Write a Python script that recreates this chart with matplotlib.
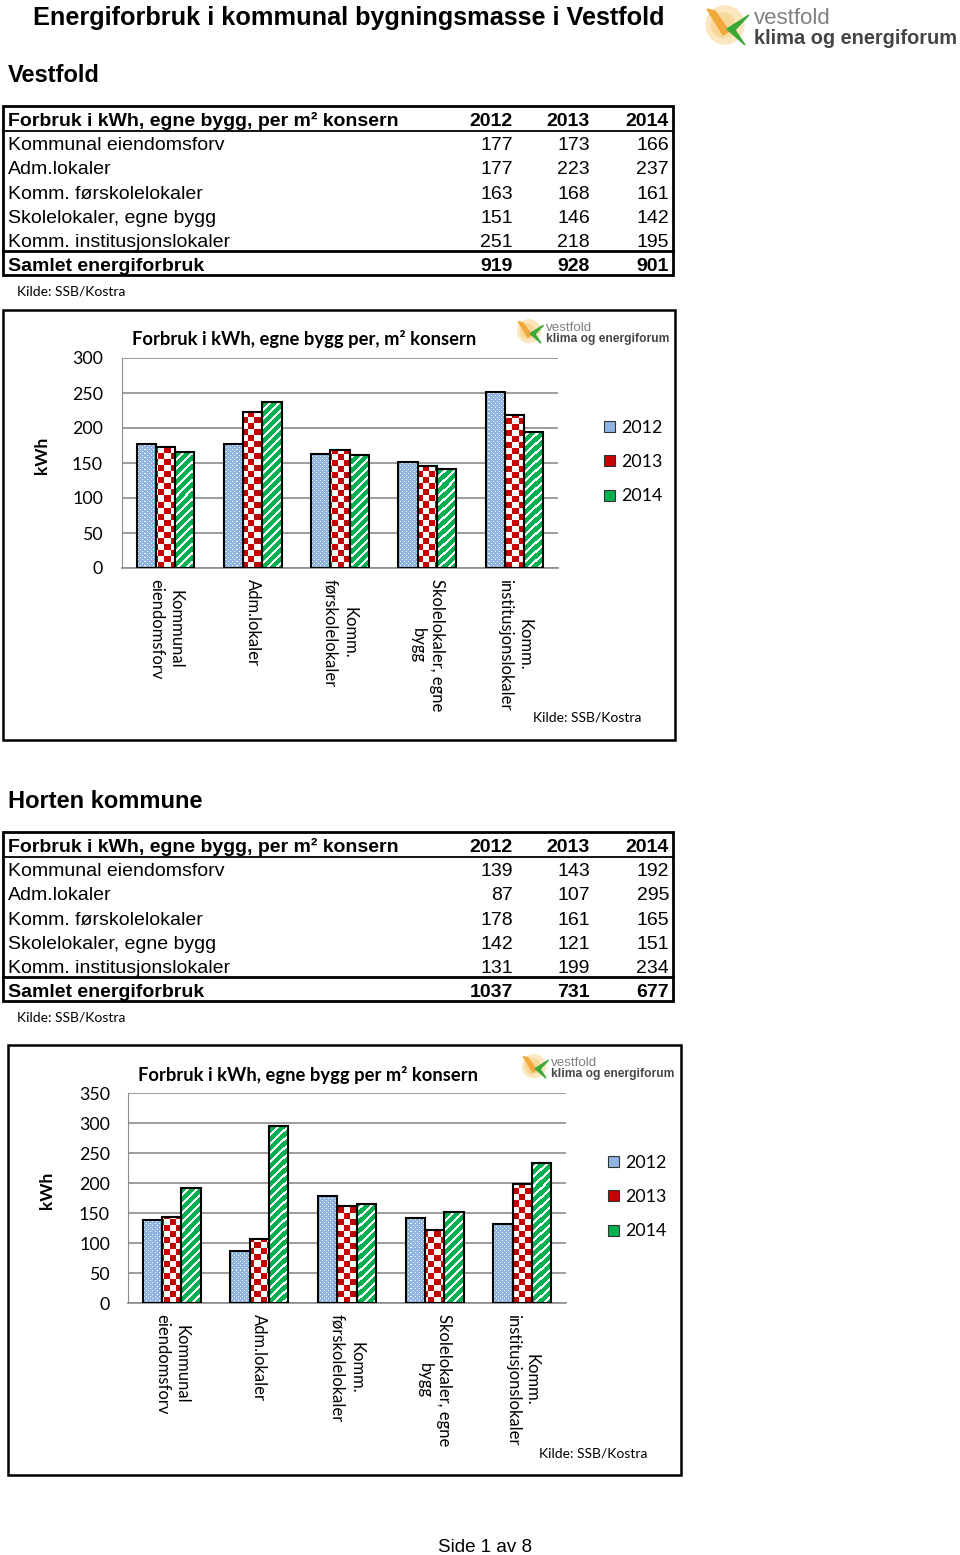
import numpy as np
import matplotlib
matplotlib.use("Agg")
import matplotlib.pyplot as plt
from matplotlib.patches import Rectangle, Circle, Polygon, Patch

# ---------------- data ----------------
table_rows = ["Kommunal eiendomsforv", "Adm.lokaler", "Komm. førskolelokaler",
              "Skolelokaler, egne bygg", "Komm. institusjonslokaler"]
chart_categories = ["Kommunal\neiendomsforv", "Adm.lokaler", "Komm.\nførskolelokaler",
                    "Skolelokaler, egne\nbygg", "Komm.\ninstitusjonslokaler"]
years = ["2012", "2013", "2014"]

vestfold_2012 = [177, 177, 163, 151, 251]
vestfold_2013 = [173, 223, 168, 146, 218]
vestfold_2014 = [166, 237, 161, 142, 195]
vestfold_total = [919, 928, 901]

horten_2012 = [139, 87, 178, 142, 131]
horten_2013 = [143, 107, 161, 121, 199]
horten_2014 = [192, 295, 165, 151, 234]
horten_total = [1037, 731, 677]

# ---------------- setup ----------------
W, H = 960, 1555
fig = plt.figure(figsize=(W / 100, H / 100), dpi=100)
fig.patch.set_facecolor("white")
ov = fig.add_axes([0, 0, 1, 1], zorder=5)
ov.set_xlim(0, W)
ov.set_ylim(H, 0)
ov.axis("off")
ov.patch.set_alpha(0)

ARIAL = ["Liberation Sans", "DejaVu Sans"]
CAL = ["Lato", "DejaVu Sans"]

BLUE = np.array([0.56, 0.71, 0.89])
RED = np.array([0.78, 0.0, 0.0])
GREEN = np.array([0.0, 0.69, 0.31])
WHITE = np.array([1.0, 1.0, 1.0])


def pattern_images(wpx, hpx):
    ii, jj = np.meshgrid(np.arange(wpx), np.arange(hpx))
    dots = np.empty((hpx, wpx, 3)); dots[:] = BLUE
    m = ((ii % 4 == 0) & (jj % 4 == 0)) | ((ii % 4 == 2) & (jj % 4 == 2))
    dots[m] = WHITE
    chk = np.empty((hpx, wpx, 3)); chk[:] = WHITE
    m = ((ii // 6 + jj // 6) % 2 == 0)
    chk[m] = RED
    stp = np.empty((hpx, wpx, 3)); stp[:] = GREEN
    m = ((ii - jj) % 9) < 3
    stp[m] = WHITE
    return [dots, chk, stp]


def logo(x0, y0, s, ts):
    ov.add_patch(Circle((x0 + 20 * s, y0 + 22 * s), 19 * s, color="#fbe6bf", zorder=1))
    ov.add_patch(Circle((x0 + 18 * s, y0 + 22 * s), 12 * s, color="#f8d89a", zorder=1))
    ov.add_patch(Polygon([(x0 + 2 * s, y0 + 6 * s), (x0 + 10 * s, y0 + 8 * s),
                          (x0 + 24 * s, y0 + 28 * s), (x0 + 18 * s, y0 + 32 * s)],
                         closed=True, color="#f2a93b", zorder=2))
    ov.add_patch(Polygon([(x0 + 44 * s, y0 + 12 * s), (x0 + 22 * s, y0 + 26 * s),
                          (x0 + 40 * s, y0 + 42 * s), (x0 + 30 * s, y0 + 27 * s)],
                         closed=True, color="#3aa935", zorder=2))
    ov.text(x0 + 49 * s, y0 + 16 * s, "vestfold", family=ARIAL, fontsize=16 * ts,
            color="#808080", va="center", ha="left", zorder=3)
    ov.text(x0 + 49 * s, y0 + 35.5 * s, "klima og energiforum", family=ARIAL, fontsize=14.4 * ts,
            color="#454545", fontweight="bold", va="center", ha="left", zorder=3)


def table(top, v12, v13, v14, tot):
    rh = 24.3
    bottom = top + 7 * rh - 1
    ov.add_patch(Rectangle((3, top), 670, bottom - top, fill=False, lw=2, ec="black"))
    ov.plot([3, 673], [top + rh + 0.5, top + rh + 0.5], color="black", lw=1.3)
    ov.plot([3, 673], [top + 6 * rh - 0.5, top + 6 * rh - 0.5], color="black", lw=2)
    cols = [513, 590, 669]
    yc = top + rh / 2 + 3
    ov.text(8, yc, "Forbruk i kWh, egne bygg, per m² konsern", family=ARIAL, fontsize=14,
            fontweight="bold", va="center", ha="left")
    for c, yr in zip(cols, years):
        ov.text(c, yc, yr, family=ARIAL, fontsize=14, fontweight="bold", va="center", ha="right")
    for r, name in enumerate(table_rows):
        y = top + rh * (r + 1.5) + 3
        ov.text(8, y, name, family=ARIAL, fontsize=14, va="center", ha="left")
        for c, vals in zip(cols, [v12, v13, v14]):
            ov.text(c, y, str(vals[r]), family=ARIAL, fontsize=14, va="center", ha="right")
    y = top + rh * 6.5 + 3
    ov.text(8, y, "Samlet energiforbruk", family=ARIAL, fontsize=14, fontweight="bold",
            va="center", ha="left")
    for c, t in zip(cols, tot):
        ov.text(c, y, str(t), family=ARIAL, fontsize=14, fontweight="bold", va="center", ha="right")
    ov.text(17, bottom + 16, "Kilde: SSB/Kostra", family=CAL, fontsize=10, va="center", ha="left")


def chart(box, area, ymax, title, v12, v13, v14, title_xy, kwh_xy, leg_xy, kilde_xy, logo_xy, ypad):
    bx0, by0, bx1, by1 = box
    ov.add_patch(Rectangle((bx0, by0), bx1 - bx0, by1 - by0, fill=False, lw=1.8, ec="black"))
    left, top, right, bottom = area
    ax = fig.add_axes([left / W, 1 - bottom / H, (right - left) / W, (bottom - top) / H], zorder=2)
    ax.patch.set_alpha(0)
    x = np.arange(len(chart_categories))
    w = 0.22
    imgs = pattern_images(int(right - left), int(bottom - top))
    for k, (vals, img) in enumerate(zip([v12, v13, v14], imgs)):
        bars = ax.bar(x + (k - 1) * w, vals, w, facecolor="none", edgecolor="black",
                      linewidth=1.5, zorder=3)
        for b in bars:
            im = ax.imshow(img, extent=(-0.5, len(x) - 0.5, 0, ymax), origin="lower",
                           aspect="auto", interpolation="nearest", zorder=2)
            im.set_clip_path(b)
    ax.set_xlim(-0.5, len(x) - 0.5)
    ax.set_ylim(0, ymax)
    ax.set_yticks(np.arange(0, ymax + 1, 50))
    ax.set_xticks(x)
    ax.set_xticklabels(chart_categories, rotation=270, ha="center", va="top",
                       multialignment="center", family=CAL, fontsize=12, linespacing=1.25)
    ax.tick_params(axis="x", length=0, pad=8)
    ax.tick_params(axis="y", length=0, pad=ypad, labelsize=12.8)
    for lab in ax.get_yticklabels():
        lab.set_family(CAL)
    ax.grid(axis="y", color="#8c8c8c", lw=1.2)
    ax.set_axisbelow(True)
    for sp in ["top", "right"]:
        ax.spines[sp].set_visible(False)
    ax.spines["left"].set_color("#8c8c8c")
    ax.spines["bottom"].set_color("#8c8c8c")
    ax.spines["bottom"].set_linewidth(1.2)

    ov.text(title_xy[0], title_xy[1], title, family=CAL, fontsize=13.2, fontweight="bold",
            ha="left", va="center")
    ov.text(kwh_xy[0], kwh_xy[1], "kWh", family=CAL, fontsize=12.5, fontweight="bold",
            rotation=90, ha="center", va="center")
    ov.text(kilde_xy[0], kilde_xy[1], "Kilde: SSB/Kostra", family=CAL, fontsize=10,
            ha="left", va="center")
    handles = [Patch(facecolor=BLUE, edgecolor="#333333", lw=0.8),
               Patch(facecolor=RED, edgecolor="#333333", lw=0.8),
               Patch(facecolor=GREEN, edgecolor="#333333", lw=0.8)]
    ax.legend(handles, years, loc="center left", bbox_to_anchor=leg_xy,
              bbox_transform=ov.transData, frameon=False, prop={"family": CAL, "size": 12.8},
              handlelength=0.6, handleheight=0.6, handletextpad=0.35, labelspacing=1.04,
              borderpad=0, borderaxespad=0)
    logo(logo_xy[0], logo_xy[1], 0.6, 0.6)


# ---------------- page ----------------
ov.text(33, 18, "Energiforbruk i kommunal bygningsmasse i Vestfold", family=ARIAL,
        fontsize=18.2, fontweight="bold", ha="left", va="center")
logo(705, 3, 1.0, 1.0)

ov.text(8, 76, "Vestfold", family=ARIAL, fontsize=17, fontweight="bold", ha="left", va="center")
table(106, vestfold_2012, vestfold_2013, vestfold_2014, vestfold_total)
chart((3, 310, 675, 740), (122, 358, 558, 568), 300,
      "Forbruk i kWh, egne bygg per, m² konsern",
      vestfold_2012, vestfold_2013, vestfold_2014,
      (132, 339), (42, 455), (604, 462), (533, 718), (517, 318), 13.7)

ov.text(8, 801, "Horten kommune", family=ARIAL, fontsize=17, fontweight="bold",
        ha="left", va="center")
table(832, horten_2012, horten_2013, horten_2014, horten_total)
chart((8, 1045, 681, 1475), (128, 1093, 566, 1303), 350,
      "Forbruk i kWh, egne bygg per m² konsern",
      horten_2012, horten_2013, horten_2014,
      (138, 1075), (47, 1190), (608, 1197), (539, 1453), (522, 1053), 13)

ov.text(485, 1547, "Side 1 av 8", family=ARIAL, fontsize=13.5, ha="center", va="center")

fig.savefig("out.png", dpi=100)
